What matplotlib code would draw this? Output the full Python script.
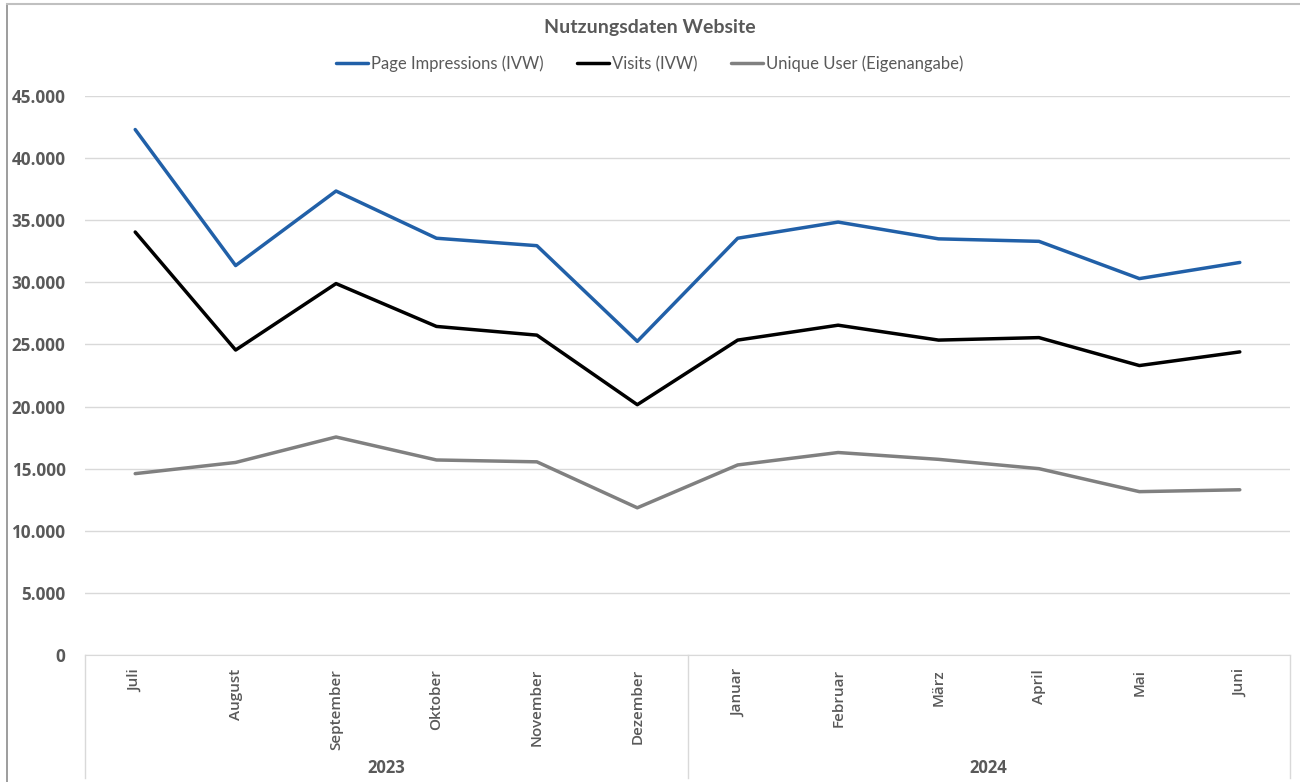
import matplotlib
matplotlib.use('Agg')
import matplotlib.pyplot as plt
from matplotlib.lines import Line2D

months = ['Juli', 'August', 'September', 'Oktober', 'November', 'Dezember',
          'Januar', 'Februar', 'März', 'April', 'Mai', 'Juni']
years = ['2023', '2024']
page_impressions = [42300, 31350, 37350, 33550, 32950, 25250,
                    33550, 34850, 33500, 33300, 30300, 31600]
visits = [34050, 24550, 29900, 26450, 25750, 20150,
          25350, 26550, 25350, 25550, 23300, 24400]
unique_users = [14600, 15500, 17550, 15700, 15550, 11850,
                15300, 16300, 15750, 15000, 13150, 13300]
y_ticks = [0, 5000, 10000, 15000, 20000, 25000, 30000, 35000, 40000, 45000]

txt = '#595959'
grid = '#d9d9d9'
tick_font = 'Open Sans'

fig = plt.figure(figsize=(13, 7.82), dpi=100)
ax = fig.add_axes([85/1300, 1-655/782, 1205/1300, (655-96)/782])

x = list(range(len(months)))
ax.plot(x, page_impressions, color='#2160a8', lw=2.5, label='Page Impressions (IVW)', solid_capstyle='round')
ax.plot(x, visits, color='black', lw=2.5, label='Visits (IVW)', solid_capstyle='round')
ax.plot(x, unique_users, color='#808080', lw=2.5, label='Unique User (Eigenangabe)', solid_capstyle='round')

ax.set_xlim(-0.5, len(months) - 0.5)
ax.set_ylim(0, 45000)
ax.set_yticks(y_ticks, [f'{v:,}'.replace(',', '.') for v in y_ticks],
              fontfamily=tick_font, fontweight='bold', fontsize=12.3, color=txt)
ax.grid(axis='y', color=grid, lw=1)
ax.set_axisbelow(True)
for s in ['top', 'right', 'left']:
    ax.spines[s].set_visible(False)
ax.spines['bottom'].set_color(grid)
ax.tick_params(axis='y', length=0, pad=14)
ax.tick_params(axis='x', length=0, pad=10)
ax.set_xticks(x, months, rotation=90, va='top', ha='center', color=txt,
              fontsize=11, fontfamily=tick_font, fontweight='semibold')

# year group separators and labels
trans = ax.get_xaxis_transform()
for sx in [-0.5, 5.5, 11.5]:
    ax.plot([sx, sx], [0, -(778-655)/559], color=grid, lw=1, transform=trans, clip_on=False)
for i, yr in enumerate(years):
    ax.text(2.5 + 6*i, -(768-655)/559, yr, transform=trans, ha='center', va='center',
            color=txt, fontsize=12, fontfamily=tick_font, fontweight='bold')

# chart frame
fig.add_artist(Line2D([7/1300, 7/1300], [0, 1-4/782], color='#8c8c8c', lw=1.2))
fig.add_artist(Line2D([7/1300, 1], [1-4/782, 1-4/782], color='#c0c0c0', lw=1.5))

fig.text(0.5, 1-28/782, 'Nutzungsdaten Website', ha='center', va='center',
         color=txt, fontsize=14, fontfamily='Lato', fontweight='bold')
fig.legend(loc='center', bbox_to_anchor=(0.5, 1-64/782), ncol=3, frameon=False,
           prop={'family': 'Lato', 'size': 12}, labelcolor=txt, handlelength=1.9,
           handletextpad=0.2, columnspacing=2.0)

fig.savefig('out.png', dpi=100, facecolor='white')
